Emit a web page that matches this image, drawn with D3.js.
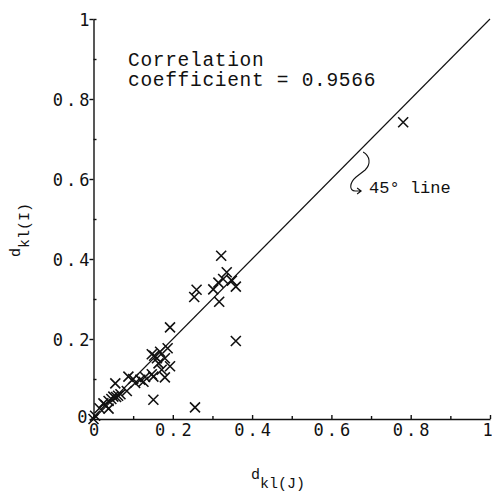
<!DOCTYPE html>
<html>
<head>
<meta charset="utf-8">
<script src="https://cdn.jsdelivr.net/npm/d3@7"></script>
<style>
  body { margin: 0; background: #fff; }
  svg { display: block; }
  .tick text { font-family: "DejaVu Sans Mono", monospace; font-size: 17px; letter-spacing: 3px; fill: #111; }
  .mono { font-family: "Liberation Mono", "Courier New", monospace; fill: #111; }
</style>
</head>
<body>
<div id="chart"></div>
<script>
// d_kl(J) vs d_kl(I) pairs
const xVals = [0.322, 0.336, 0.315, 0.327, 0.302, 0.349, 0.359, 0.317, 0.260, 0.254, 0.359, 0.256, 0.781,
  0.193, 0.187, 0.147, 0.153, 0.168, 0.160, 0.180, 0.193, 0.164, 0.172, 0.180, 0.147, 0.151, 0.151,
  0.118, 0.126, 0.130, 0.105, 0.088, 0.084, 0.055, 0.050, 0.057, 0.062, 0.045, 0.038, 0.025, 0.030,
  0.038, 0.015, 0.004, 0.000, 0.068, 0.100];
const yVals = [0.408, 0.367, 0.341, 0.350, 0.324, 0.346, 0.331, 0.293, 0.323, 0.305, 0.195, 0.029, 0.742,
  0.229, 0.177, 0.162, 0.158, 0.168, 0.152, 0.152, 0.132, 0.139, 0.123, 0.104, 0.112, 0.106, 0.048,
  0.098, 0.093, 0.105, 0.090, 0.106, 0.070, 0.089, 0.056, 0.055, 0.058, 0.050, 0.045, 0.039, 0.035,
  0.026, 0.027, 0.008, 0.000, 0.062, 0.100];
const majorTicks = [0, 0.2, 0.4, 0.6, 0.8, 1];
const tickLabels = ["0", "0.2", "0.4", "0.6", "0.8", "1"];
const minorTicks = [0.1, 0.3, 0.5, 0.7, 0.9];
const diagonal = [0, 1];
const noteLines = ["Correlation", "coefficient = 0.9566"];
const lineNote = "45\u00b0 line";

const width = 492, height = 492;
const ink = "#111";

const x = d3.scaleLinear().domain([0, 1]).range([93.5, 490]);
const y = d3.scaleLinear().domain([0, 1]).range([419, 19]);

const svg = d3.select("#chart").append("svg")
  .attr("width", width)
  .attr("height", height);

// x axis, ticks point up into the plot
const xAxis = svg.append("g")
  .attr("transform", `translate(0,${y(0)})`)
  .call(d3.axisBottom(x).tickValues(majorTicks).tickSize(-4).tickSizeOuter(0)
    .tickFormat((d, i) => tickLabels[i]));
xAxis.selectAll("text").attr("y", 17).attr("dy", 0).attr("dx", 1.5);
// last label sits on the page edge
xAxis.selectAll("text").filter(d => d === 1)
  .style("letter-spacing", "0px")
  .attr("dx", -3);

svg.append("g")
  .attr("transform", `translate(0,${y(0)})`)
  .call(d3.axisBottom(x).tickValues(minorTicks).tickSize(-3).tickSizeOuter(0).tickFormat(""))
  .select(".domain").remove();

// y axis
const yAxis = svg.append("g")
  .attr("transform", `translate(${x(0)},0)`)
  .call(d3.axisLeft(y).tickValues(majorTicks).tickSize(4).tickSizeOuter(0)
    .tickFormat((d, i) => tickLabels[i]));
yAxis.selectAll(".tick text").attr("x", (d, i) => i === 0 ? -3 : -1).attr("dy", (d, i) => i === 0 ? "0.2em" : "0.36em");

svg.append("g")
  .attr("transform", `translate(${x(0)},0)`)
  .call(d3.axisRight(y).tickValues(minorTicks.concat([1])).tickSize(3).tickSizeOuter(0).tickFormat(""))
  .select(".domain").remove();

svg.selectAll(".domain, .tick line")
  .attr("stroke", ink)
  .attr("stroke-width", 1.4);

// 45 degree reference line
svg.append("path")
  .datum(diagonal)
  .attr("d", d3.line().x(d => x(d)).y(d => y(d)))
  .attr("fill", "none")
  .attr("stroke", ink)
  .attr("stroke-width", 1.1);

// crosses
svg.append("g")
  .selectAll("path")
  .data(xVals.map((v, i) => [v, yVals[i]]))
  .join("path")
  .attr("transform", d => `translate(${x(d[0])},${y(d[1])})`)
  .attr("d", "M-5,-5L5,5M-5,5L5,-5")
  .attr("fill", "none")
  .attr("stroke", ink)
  .attr("stroke-width", 1.6);

// correlation note
svg.append("text")
  .attr("class", "mono")
  .attr("font-size", 19.5)
  .attr("letter-spacing", 0.7)
  .selectAll("tspan")
  .data(noteLines)
  .join("tspan")
  .attr("x", 128)
  .attr("y", (d, i) => 66 + i * 20)
  .text(d => d);

// brace pointing at the diagonal
const ax = x(0.68), ay = y(0.68);
svg.append("path")
  .attr("transform", `translate(${ax},${ay})`)
  .attr("d", "M0,5C7,9 8,17 2,23L-7,30C-14,36 -14,44 -8,44L-2,44M-6,41L-2,44L-6,47")
  .attr("fill", "none")
  .attr("stroke", ink)
  .attr("stroke-width", 1.1);

svg.append("text")
  .attr("class", "mono")
  .attr("x", ax + 6)
  .attr("y", ay + 46)
  .attr("font-size", 17)
  .text(lineNote);

// axis titles
const yTitle = svg.append("text")
  .attr("class", "mono")
  .attr("font-size", 15)
  .attr("transform", "translate(20,257) rotate(-90)");
yTitle.append("tspan").text("d");
yTitle.append("tspan").attr("dy", 9).text("kl(I)");

const xTitle = svg.append("text")
  .attr("class", "mono")
  .attr("font-size", 15)
  .attr("x", 251)
  .attr("y", 479);
xTitle.append("tspan").text("d");
xTitle.append("tspan").attr("dy", 9).text("kl(J)");
</script>
</body>
</html>
